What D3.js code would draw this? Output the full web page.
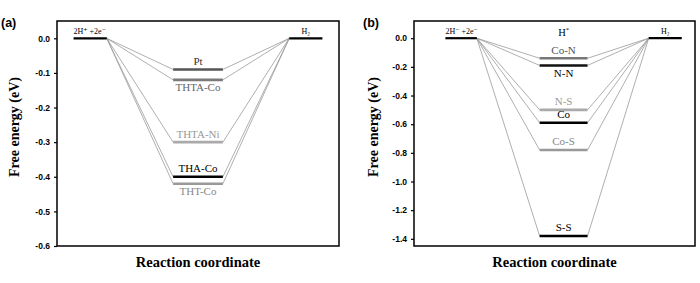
<!DOCTYPE html>
<html><head><meta charset="utf-8">
<script src="https://cdn.jsdelivr.net/npm/d3@7/dist/d3.min.js"></script>
<style>
body{margin:0;background:#fff;}
svg{display:block;}
.serif{font-family:"Liberation Serif","Times New Roman","DejaVu Serif",serif;}
.sans{font-family:"Liberation Sans",Arial,"DejaVu Sans",sans-serif;}
</style></head>
<body>
<svg id="chart" width="700" height="283"></svg>
<script>
// ---- data ----
const stagesA = ["2H⁺ +2e⁻", "H*", "H₂"];
const namesA = ["Pt", "THTA-Co", "THTA-Ni", "THA-Co", "THT-Co"];
const valuesA = [-0.09, -0.12, -0.30, -0.40, -0.42];
const ticksA = [0.0, -0.1, -0.2, -0.3, -0.4, -0.5, -0.6];

const stagesB = ["2H⁻ +2e⁻", "H*", "H₂"];
const namesB = ["Co-N", "N-N", "N-S", "Co", "Co-S", "S-S"];
const valuesB = [-0.14, -0.19, -0.50, -0.59, -0.78, -1.38];
const ticksB = [0.0, -0.2, -0.4, -0.6, -0.8, -1.0, -1.2, -1.4];

// ---- styles / layout ----
const styleA = {
  "Pt": {line: "#555", text: "#333", pos: "above"},
  "THTA-Co": {line: "#7a7a7a", text: "#666", pos: "below"},
  "THTA-Ni": {line: "#aaa", text: "#999", pos: "above"},
  "THA-Co": {line: "#000", text: "#000", pos: "above"},
  "THT-Co": {line: "#999", text: "#888", pos: "below"}
};
const styleB = {
  "Co-N": {line: "#777", text: "#555", pos: "above"},
  "N-N": {line: "#111", text: "#000", pos: "below"},
  "N-S": {line: "#aaa", text: "#999", pos: "above"},
  "Co": {line: "#000", text: "#000", pos: "above"},
  "Co-S": {line: "#999", text: "#888", pos: "above"},
  "S-S": {line: "#000", text: "#000", pos: "above"}
};

const svg = d3.select("#chart");

function panel(cfg) {
  const g = svg.append("g");
  const x = d3.scaleLinear().domain([0, 8.5]).range([cfg.x0, cfg.x1]);
  const y = d3.scaleLinear().domain(cfg.ydom).range([cfg.y1, cfg.y0]);
  const [L, M, R] = cfg.spans;

  // connectors
  cfg.values.forEach((v, i) => {
    g.append("path")
      .attr("d", d3.line()([[x(L[1]), y(0)], [x(M[0]), y(v)]]))
      .attr("stroke", "#9a9a9a").attr("stroke-width", 0.8).attr("fill", "none");
    g.append("path")
      .attr("d", d3.line()([[x(M[1]), y(v)], [x(R[0]), y(0)]]))
      .attr("stroke", "#9a9a9a").attr("stroke-width", 0.8).attr("fill", "none");
  });

  // end levels
  [L, R].forEach(s => {
    g.append("line").attr("x1", x(s[0])).attr("x2", x(s[1]))
      .attr("y1", y(0)).attr("y2", y(0))
      .attr("stroke", "#000").attr("stroke-width", 2.2);
  });
  g.append("text").attr("class", "serif").attr("x", x(L[0])).attr("y", y(0) - 4)
    .attr("font-size", 8)
    .text(cfg.stages[0]);
  g.append("text").attr("class", "serif").attr("x", (x(R[0]) + x(R[1])) / 2).attr("y", y(0) - 4)
    .attr("text-anchor", "middle")
    .attr("font-size", 8)
    .text(cfg.stages[2]);
  if (cfg.showMid) {
    g.append("text").attr("class", "serif").attr("x", (x(M[0]) + x(M[1])) / 2).attr("y", y(0) - 2)
      .attr("text-anchor", "middle")
      .attr("font-size", 10.5)
      .text("H").append("tspan").attr("dy", -4).attr("font-size", 6).text("*");
  }

  // middle levels
  cfg.values.forEach((v, i) => {
    const st = cfg.style[cfg.names[i]];
    g.append("line").attr("x1", x(M[0])).attr("x2", x(M[1]))
      .attr("y1", y(v)).attr("y2", y(v))
      .attr("stroke", st.line).attr("stroke-width", 2.6);
    g.append("text").attr("class", "serif").attr("x", (x(M[0]) + x(M[1])) / 2)
      .attr("y", st.pos === "above" ? y(v) - 4.5 : y(v) + 11.5)
      .attr("text-anchor", "middle")
      .attr("font-size", 11)
      .attr("fill", st.text)
      .text(cfg.names[i]);
  });

  // frame
  g.append("rect").attr("x", cfg.x0).attr("y", cfg.y0)
    .attr("width", cfg.x1 - cfg.x0).attr("height", cfg.y1 - cfg.y0)
    .attr("fill", "none").attr("stroke", "#000").attr("stroke-width", 1.5);

  // y axis
  const ax = g.append("g").attr("transform", `translate(${cfg.x0},0)`)
    .call(d3.axisLeft(y).tickValues(cfg.ticks).tickSize(3).tickPadding(4)
      .tickFormat(d => d3.format(".1f")(d).replace("−", "-")));
  ax.select(".domain").remove();
  ax.selectAll("line").attr("stroke-width", 1.2);
  ax.selectAll("text").attr("class", "sans").attr("font-family", null).attr("font-weight", "bold")
    .attr("font-size", 8.5).attr("fill", "#000");

  // titles
  g.append("text").attr("class", "serif")
    .attr("transform", `translate(${cfg.ytx},127) rotate(-90)`)
    .attr("text-anchor", "middle").attr("dominant-baseline", "middle")
    .attr("font-weight", "bold").attr("font-size", 14)
    .text("Free energy (eV)");
  g.append("text").attr("class", "serif").attr("x", (cfg.x0 + cfg.x1) / 2).attr("y", 267)
    .attr("text-anchor", "middle")
    .attr("font-weight", "bold").attr("font-size", 14.5)
    .text("Reaction coordinate");
  g.append("text").attr("class", "sans").attr("x", cfg.lx).attr("y", 27)
    .attr("font-weight", "bold").attr("font-size", 12.5)
    .text(cfg.label);
}

panel({x0: 57, x1: 339, y0: 21, y1: 246, ydom: [-0.6, 0.05],
  spans: [[0.5, 1.5], [3.5, 5.0], [7.0, 8.0]],
  values: valuesA, names: namesA, style: styleA, ticks: ticksA,
  stages: stagesA, showMid: false, ytx: 16, lx: 1, label: "(a)"});

panel({x0: 414, x1: 695, y0: 21, y1: 246, ydom: [-1.45, 0.12],
  spans: [[0.95, 1.9], [3.8, 5.25], [7.1, 8.1]],
  values: valuesB, names: namesB, style: styleB, ticks: ticksB,
  stages: stagesB, showMid: true, ytx: 375, lx: 363, label: "(b)"});
</script>
</body></html>
